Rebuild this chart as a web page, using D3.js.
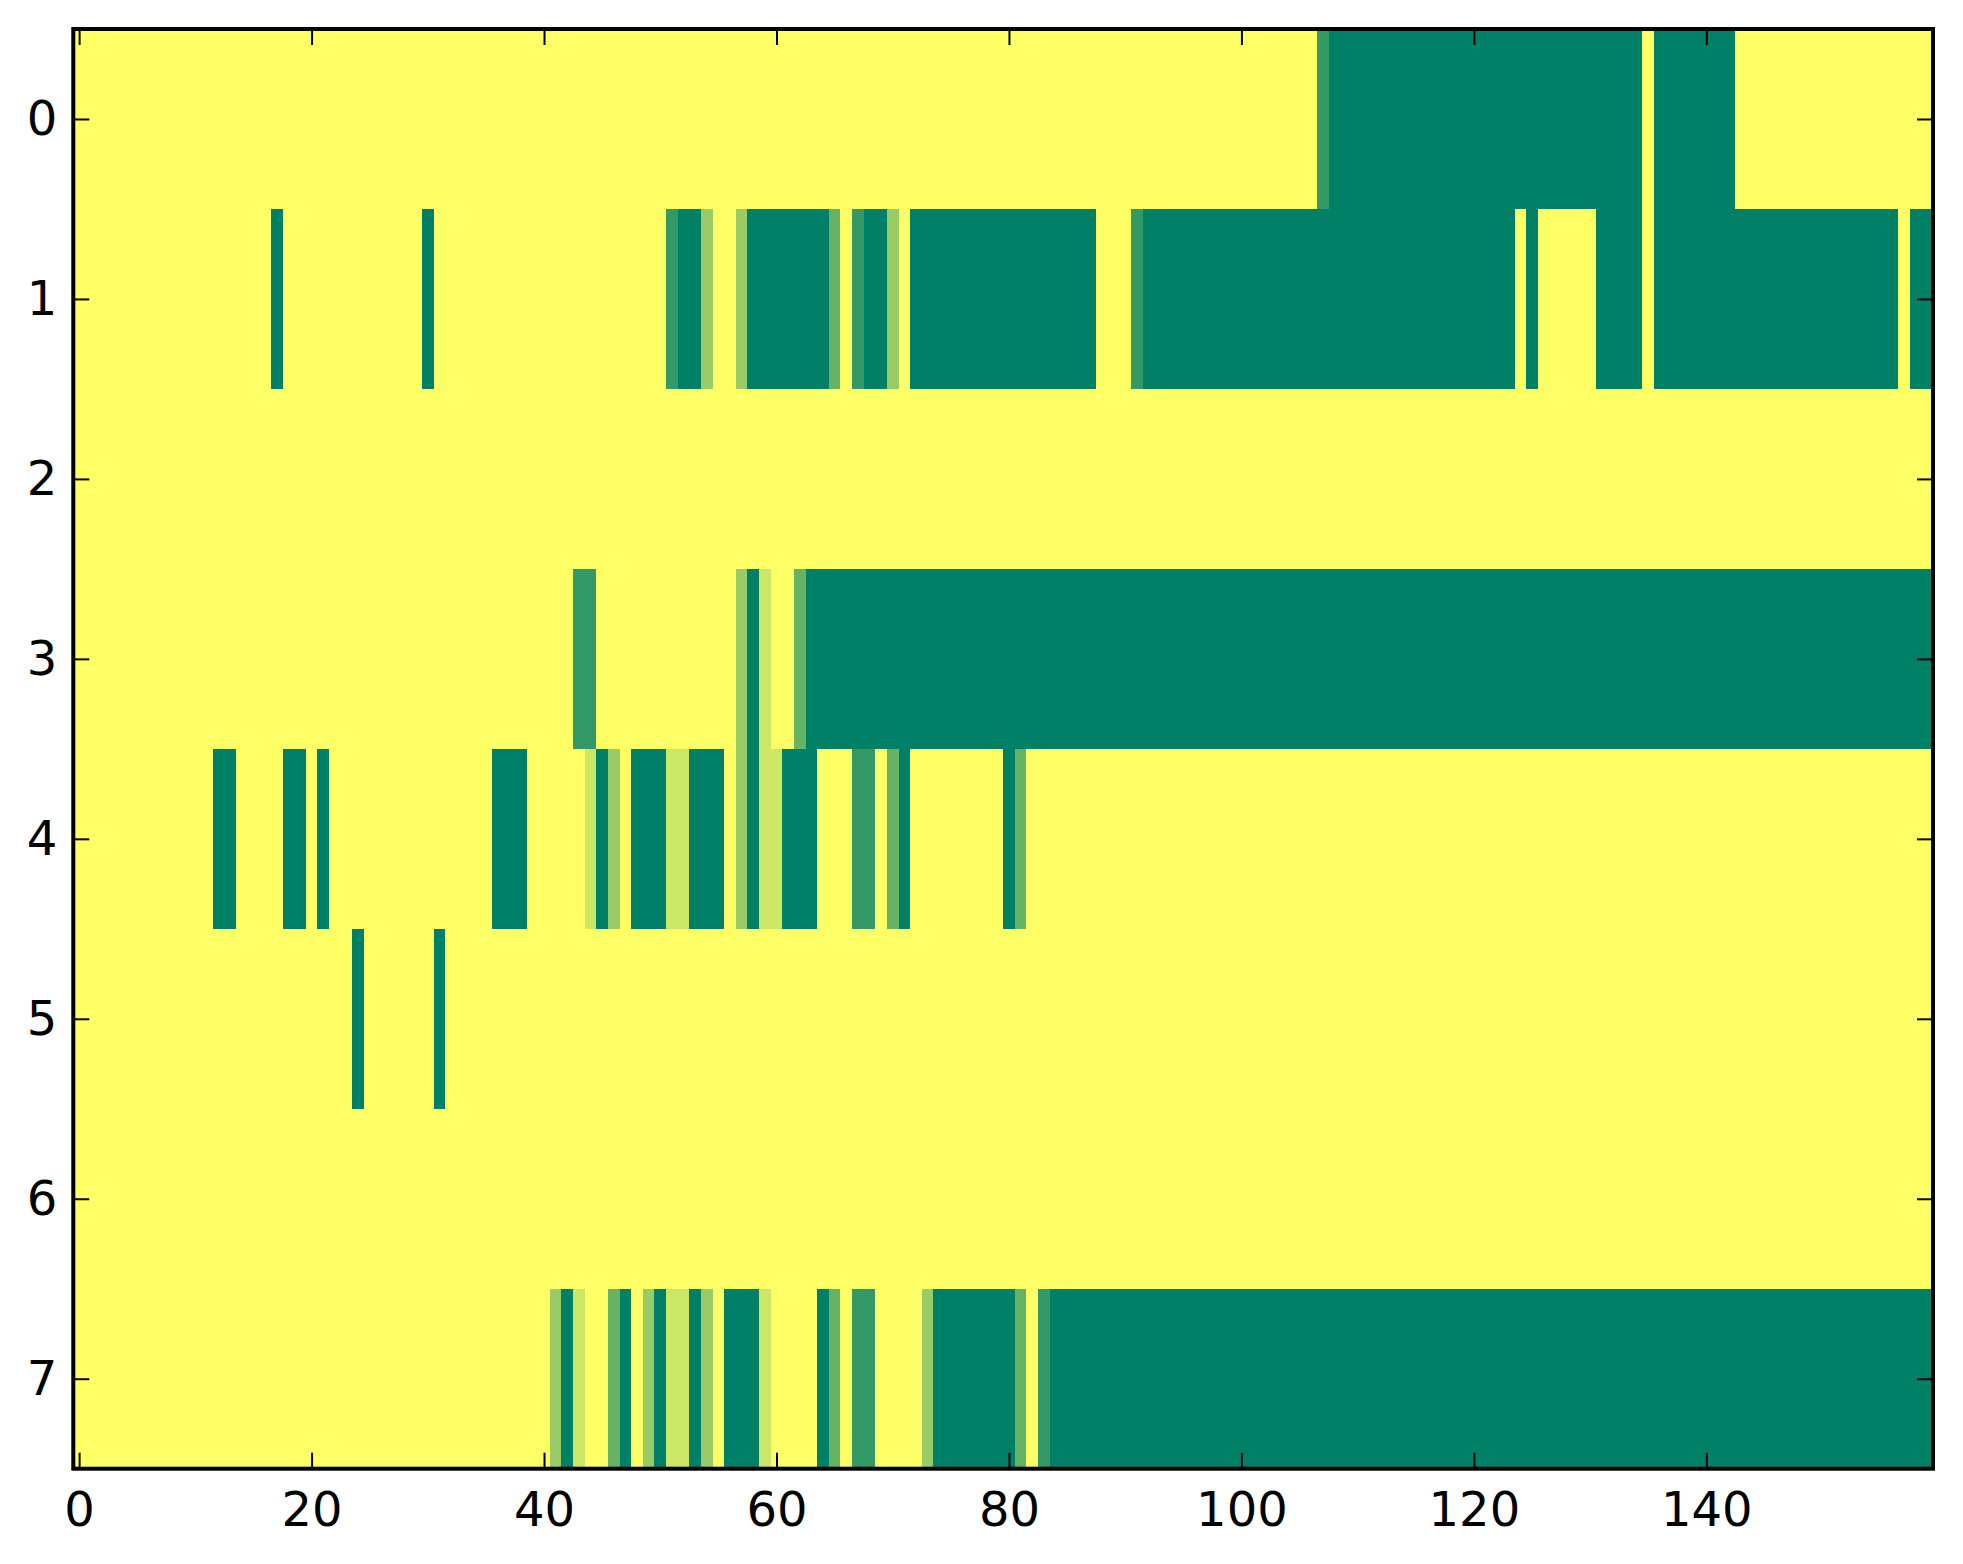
<!DOCTYPE html>
<html>
<head>
<meta charset="utf-8">
<script src="https://cdn.jsdelivr.net/npm/d3@7"></script>
<style>
  html, body { margin: 0; padding: 0; background: #fff; }
  svg { display: block; }
  .tick text { font-family: "DejaVu Sans", sans-serif; font-size: 48px; fill: #000; }
</style>
</head>
<body>
<svg></svg>
<script>
// one array per row (row index 0..7), 160 columns each; 0 = green end, 1 = yellow end
const row0 = [
  1,1,1,1,1,1,1,1,1,1,1,1,1,1,1,1,1,1,1,1,
  1,1,1,1,1,1,1,1,1,1,1,1,1,1,1,1,1,1,1,1,
  1,1,1,1,1,1,1,1,1,1,1,1,1,1,1,1,1,1,1,1,
  1,1,1,1,1,1,1,1,1,1,1,1,1,1,1,1,1,1,1,1,
  1,1,1,1,1,1,1,1,1,1,1,1,1,1,1,1,1,1,1,1,
  1,1,1,1,1,1,1,.2,0,0,0,0,0,0,0,0,0,0,0,0,
  0,0,0,0,0,0,0,0,0,0,0,0,0,0,0,1,0,0,0,0,
  0,0,0,1,1,1,1,1,1,1,1,1,1,1,1,1,1,1,1,1
];
const row1 = [
  1,1,1,1,1,1,1,1,1,1,1,1,1,1,1,1,1,0,1,1,
  1,1,1,1,1,1,1,1,1,1,0,1,1,1,1,1,1,1,1,1,
  1,1,1,1,1,1,1,1,1,1,1,.2,0,0,.6,1,1,.6,0,0,
  0,0,0,0,0,.4,1,.2,0,0,.6,1,0,0,0,0,0,0,0,0,
  0,0,0,0,0,0,0,0,1,1,1,.2,0,0,0,0,0,0,0,0,
  0,0,0,0,0,0,0,0,0,0,0,0,0,0,0,0,0,0,0,0,
  0,0,0,0,1,0,1,1,1,1,1,0,0,0,0,1,0,0,0,0,
  0,0,0,0,0,0,0,0,0,0,0,0,0,0,0,0,0,1,0,0
];
const row2 = [
  1,1,1,1,1,1,1,1,1,1,1,1,1,1,1,1,1,1,1,1,
  1,1,1,1,1,1,1,1,1,1,1,1,1,1,1,1,1,1,1,1,
  1,1,1,1,1,1,1,1,1,1,1,1,1,1,1,1,1,1,1,1,
  1,1,1,1,1,1,1,1,1,1,1,1,1,1,1,1,1,1,1,1,
  1,1,1,1,1,1,1,1,1,1,1,1,1,1,1,1,1,1,1,1,
  1,1,1,1,1,1,1,1,1,1,1,1,1,1,1,1,1,1,1,1,
  1,1,1,1,1,1,1,1,1,1,1,1,1,1,1,1,1,1,1,1,
  1,1,1,1,1,1,1,1,1,1,1,1,1,1,1,1,1,1,1,1
];
const row3 = [
  1,1,1,1,1,1,1,1,1,1,1,1,1,1,1,1,1,1,1,1,
  1,1,1,1,1,1,1,1,1,1,1,1,1,1,1,1,1,1,1,1,
  1,1,1,.2,.2,1,1,1,1,1,1,1,1,1,1,1,1,.6,0,.8,
  1,1,.4,0,0,0,0,0,0,0,0,0,0,0,0,0,0,0,0,0,
  0,0,0,0,0,0,0,0,0,0,0,0,0,0,0,0,0,0,0,0,
  0,0,0,0,0,0,0,0,0,0,0,0,0,0,0,0,0,0,0,0,
  0,0,0,0,0,0,0,0,0,0,0,0,0,0,0,0,0,0,0,0,
  0,0,0,0,0,0,0,0,0,0,0,0,0,0,0,0,0,0,0,0
];
const row4 = [
  1,1,1,1,1,1,1,1,1,1,1,1,0,0,1,1,1,1,0,0,
  1,0,1,1,1,1,1,1,1,1,1,1,1,1,1,1,0,0,0,1,
  1,1,1,1,.8,0,.6,1,0,0,0,.8,.8,0,0,0,1,.6,0,.8,
  .8,0,0,0,1,1,1,.2,.2,1,.4,0,1,1,1,1,1,1,1,1,
  0,.4,1,1,1,1,1,1,1,1,1,1,1,1,1,1,1,1,1,1,
  1,1,1,1,1,1,1,1,1,1,1,1,1,1,1,1,1,1,1,1,
  1,1,1,1,1,1,1,1,1,1,1,1,1,1,1,1,1,1,1,1,
  1,1,1,1,1,1,1,1,1,1,1,1,1,1,1,1,1,1,1,1
];
const row5 = [
  1,1,1,1,1,1,1,1,1,1,1,1,1,1,1,1,1,1,1,1,
  1,1,1,1,0,1,1,1,1,1,1,0,1,1,1,1,1,1,1,1,
  1,1,1,1,1,1,1,1,1,1,1,1,1,1,1,1,1,1,1,1,
  1,1,1,1,1,1,1,1,1,1,1,1,1,1,1,1,1,1,1,1,
  1,1,1,1,1,1,1,1,1,1,1,1,1,1,1,1,1,1,1,1,
  1,1,1,1,1,1,1,1,1,1,1,1,1,1,1,1,1,1,1,1,
  1,1,1,1,1,1,1,1,1,1,1,1,1,1,1,1,1,1,1,1,
  1,1,1,1,1,1,1,1,1,1,1,1,1,1,1,1,1,1,1,1
];
const row6 = [
  1,1,1,1,1,1,1,1,1,1,1,1,1,1,1,1,1,1,1,1,
  1,1,1,1,1,1,1,1,1,1,1,1,1,1,1,1,1,1,1,1,
  1,1,1,1,1,1,1,1,1,1,1,1,1,1,1,1,1,1,1,1,
  1,1,1,1,1,1,1,1,1,1,1,1,1,1,1,1,1,1,1,1,
  1,1,1,1,1,1,1,1,1,1,1,1,1,1,1,1,1,1,1,1,
  1,1,1,1,1,1,1,1,1,1,1,1,1,1,1,1,1,1,1,1,
  1,1,1,1,1,1,1,1,1,1,1,1,1,1,1,1,1,1,1,1,
  1,1,1,1,1,1,1,1,1,1,1,1,1,1,1,1,1,1,1,1
];
const row7 = [
  1,1,1,1,1,1,1,1,1,1,1,1,1,1,1,1,1,1,1,1,
  1,1,1,1,1,1,1,1,1,1,1,1,1,1,1,1,1,1,1,1,
  1,.6,0,.8,1,1,.4,0,1,.6,0,.8,.8,0,.6,1,0,0,0,.8,
  1,1,1,1,0,.4,1,.2,.2,1,1,1,1,.6,0,0,0,0,0,0,
  0,.4,1,.2,0,0,0,0,0,0,0,0,0,0,0,0,0,0,0,0,
  0,0,0,0,0,0,0,0,0,0,0,0,0,0,0,0,0,0,0,0,
  0,0,0,0,0,0,0,0,0,0,0,0,0,0,0,0,0,0,0,0,
  0,0,0,0,0,0,0,0,0,0,0,0,0,0,0,0,0,0,0,0
];
const rows = [row0, row1, row2, row3, row4, row5, row6, row7];

const xTicks = [0, 20, 40, 60, 80, 100, 120, 140];
const yTicks = [0, 1, 2, 3, 4, 5, 6, 7];

const W = 1963, H = 1564;
const plotLeft = 73.3, plotRight = 1933, plotTop = 29, plotBottom = 1468.7;

const svg = d3.select("svg").attr("width", W).attr("height", H);

const x = d3.scaleLinear().domain([-0.5, row0.length - 0.5]).range([plotLeft, plotRight]);
const y = d3.scaleLinear().domain([-0.5, rows.length - 0.5]).range([plotTop, plotBottom]);
// matplotlib "summer": r = v, g = 0.5 + v/2, b = 0.4
const color = d3.scaleLinear().domain([0, 1]).range(["#008066", "#ffff66"]);

const cells = rows.flatMap((vals, r) => vals.map((v, c) => ({ r, c, v })));

svg.append("g")
  .attr("shape-rendering", "crispEdges")
  .selectAll("rect")
  .data(cells)
  .enter()
  .append("rect")
  .attr("x", d => x(d.c - 0.5))
  .attr("y", d => y(d.r - 0.5))
  .attr("width", d => x(d.c + 0.5) - x(d.c - 0.5) + 0.5)
  .attr("height", d => y(d.r + 0.5) - y(d.r - 0.5) + 0.5)
  .attr("fill", d => color(d.v));

const styleAxis = g => {
  g.select(".domain").remove();
  g.selectAll(".tick line").attr("stroke", "#000").attr("stroke-width", 2);
};

svg.append("g")
  .attr("transform", `translate(0,${plotBottom})`)
  .call(d3.axisBottom(x).tickValues(xTicks).tickSizeInner(-16).tickSizeOuter(0).tickPadding(23))
  .call(styleAxis);

svg.append("g")
  .attr("transform", `translate(0,${plotTop})`)
  .call(d3.axisTop(x).tickValues(xTicks).tickSizeInner(-16).tickSizeOuter(0).tickFormat(""))
  .call(styleAxis);

svg.append("g")
  .attr("transform", `translate(${plotLeft},0)`)
  .call(d3.axisLeft(y).tickValues(yTicks).tickSizeInner(-16).tickSizeOuter(0).tickPadding(16))
  .call(styleAxis);

svg.append("g")
  .attr("transform", `translate(${plotRight},0)`)
  .call(d3.axisRight(y).tickValues(yTicks).tickSizeInner(-16).tickSizeOuter(0).tickFormat(""))
  .call(styleAxis);

svg.append("rect")
  .attr("x", plotLeft)
  .attr("y", plotTop)
  .attr("width", plotRight - plotLeft)
  .attr("height", plotBottom - plotTop)
  .attr("fill", "none")
  .attr("stroke", "#000")
  .attr("stroke-width", 4);
</script>
</body>
</html>
